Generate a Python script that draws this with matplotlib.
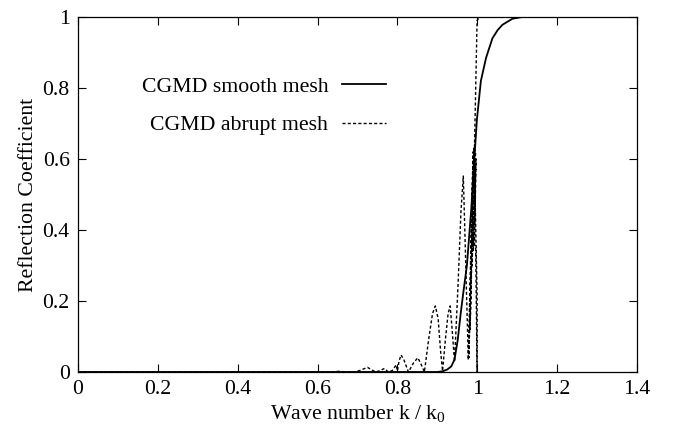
import matplotlib
matplotlib.use("Agg")
import matplotlib.pyplot as plt
from matplotlib.ticker import FixedLocator, FixedFormatter

plt.rcParams["font.family"] = ["Liberation Serif", "DejaVu Serif"]
plt.rcParams["mathtext.default"] = "regular"

# --- data ---
smooth_k = [0.0, 0.90, 0.913, 0.925, 0.935, 0.943, 0.951, 0.959, 0.966,
            0.974, 0.985, 0.992, 0.999, 1.009, 1.022, 1.038, 1.051, 1.063,
            1.088, 1.113, 1.4]
smooth_r = [0.0, 0.0, 0.002, 0.007, 0.016, 0.035, 0.09, 0.17, 0.232,
            0.30, 0.46, 0.59, 0.71, 0.82, 0.885, 0.94, 0.963, 0.978,
            0.995, 1.0, 1.0]

abrupt_k = [0.0, 0.63, 0.655, 0.67, 0.69, 0.705, 0.725, 0.745, 0.757,
            0.7675, 0.777, 0.787, 0.797, 0.800, 0.804, 0.809, 0.816, 0.8275,
            0.840, 0.851, 0.858, 0.8675, 0.878, 0.888, 0.895, 0.902, 0.908,
            0.913, 0.920, 0.927, 0.932, 0.937, 0.943, 0.952, 0.959, 0.965,
            0.970, 0.9775, 0.9895, 0.979, 0.9915, 0.982, 0.9935, 0.987,
            0.9955, 0.990, 0.997, 0.993, 0.996, 0.9995, 0.9995, 0.9925,
            0.9995, 1.006, 1.4]
abrupt_r = [0.0, 0.0, 0.002, 0.0, 0.0, 0.004, 0.013, 0.0, 0.004,
            0.01, 0.0, 0.004, 0.02, 0.003, 0.03, 0.048, 0.035, 0.0,
            0.025, 0.04, 0.025, 0.0, 0.09, 0.165, 0.186, 0.15, 0.06,
            0.003, 0.09, 0.165, 0.186, 0.12, 0.029, 0.25, 0.45, 0.552,
            0.35, 0.034, 0.62, 0.04, 0.63, 0.12, 0.64, 0.30, 0.62,
            0.34, 0.60, 0.36, 0.35, 0.0, 0.22, 0.606, 0.99, 1.0, 1.0]

x_ticks = [0, 0.2, 0.4, 0.6, 0.8, 1.0, 1.2, 1.4]
x_tick_labels = ["0", "0.2", "0.4", "0.6", "0.8", "1", "1.2", "1.4"]
y_ticks = [0, 0.2, 0.4, 0.6, 0.8, 1.0]
y_tick_labels = ["0", "0.2", "0.4", "0.6", "0.8", "1"]

fs = 15.7

fig = plt.figure(figsize=(6.73, 4.34), dpi=100)
ax = fig.add_axes([0.1159, 0.1429, 0.8306, 0.818])

ax.plot(smooth_k, smooth_r, color="black", lw=1.3,
        label="CGMD smooth mesh")
ax.plot(abrupt_k, abrupt_r, color="black", lw=1.0, dashes=(2.2, 1.6),
        label="CGMD abrupt mesh")

ax.set_xlim(0, 1.4)
ax.set_ylim(0, 1)
ax.xaxis.set_major_locator(FixedLocator(x_ticks))
ax.xaxis.set_major_formatter(FixedFormatter(x_tick_labels))
ax.yaxis.set_major_locator(FixedLocator(y_ticks))
ax.yaxis.set_major_formatter(FixedFormatter(y_tick_labels))
ax.tick_params(direction="in", length=6, width=0.8, top=True, right=True,
               labelsize=fs, pad=6)
for s in ax.spines.values():
    s.set_linewidth(0.9)

ax.set_xlabel("Wave number k / k$_0$", fontsize=fs, labelpad=3)
ax.set_ylabel("Reflection Coefficient", fontsize=fs, labelpad=3)

ax.legend(loc="upper right", bbox_to_anchor=(0.551, 0.832), frameon=False,
          markerfirst=False, fontsize=fs, handlelength=2.0,
          handletextpad=0.65, labelspacing=0.83, borderpad=0,
          borderaxespad=0)

fig.savefig("out.png", dpi=100)
